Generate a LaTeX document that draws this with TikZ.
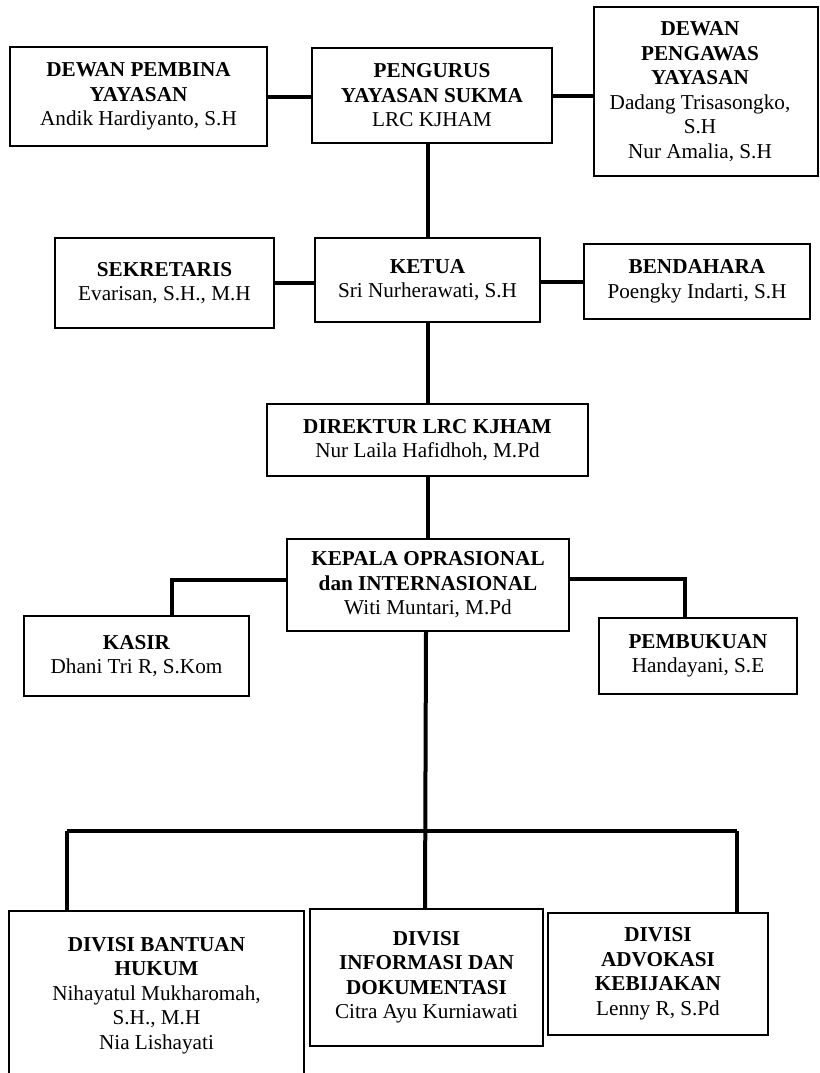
\documentclass[tikz,border=0pt]{standalone}
\usepackage{fontspec}
\setmainfont{Liberation Serif}
\newcommand\padR{\makebox[12pt]{}}
\begin{document}
\begin{tikzpicture}[x=1pt,y=-1pt,
  box/.style={draw=black,line width=2.4pt,rectangle,align=center,inner sep=2pt,
    font=\fontsize{21.2}{24.5}\selectfont},
  conn/.style={draw=black,line width=4pt}]
\useasboundingbox (0,0) rectangle (819,1073);
\clip (0,0) rectangle (819,1073);
\node[box,minimum width=257,minimum height=99] (dp) at (138.5,96.5)
  {\textbf{DEWAN PEMBINA}\\\textbf{YAYASAN}\\Andik Hardiyanto, S.H};
\node[box,minimum width=240,minimum height=95] (pengurus) at (432,95.5)
  {\textbf{PENGURUS}\\\textbf{YAYASAN SUKMA}\\LRC KJHAM};
\node[box,minimum width=224,minimum height=169] (pengawas) at (706,91.5)
  {\textbf{DEWAN}\padR\\\textbf{PENGAWAS}\padR\\\textbf{YAYASAN}\padR\\Dadang Trisasongko,\padR\\S.H\padR\\Nur Amalia, S.H\padR};
\node[box,minimum width=219,minimum height=90] (sek) at (164.5,283)
  {\textbf{SEKRETARIS}\\Evarisan, S.H., M.H};
\node[box,minimum width=225,minimum height=84] (ketua) at (427.5,280)
  {\textbf{KETUA}\\Sri Nurherawati, S.H};
\node[box,minimum width=226,minimum height=75] (bend) at (697,281.5)
  {\textbf{BENDAHARA}\\Poengky Indarti, S.H};
\node[box,minimum width=321,minimum height=72] (direktur) at (427.5,440)
  {\textbf{DIREKTUR LRC KJHAM}\\Nur Laila Hafidhoh, M.Pd};
\node[box,minimum width=282,minimum height=92] (kepala) at (428,585)
  {\textbf{KEPALA OPRASIONAL}\\\textbf{dan INTERNASIONAL}\\Witi Muntari, M.Pd};
\node[box,minimum width=225,minimum height=80] (kasir) at (136.5,656)
  {\textbf{KASIR}\\Dhani Tri R, S.Kom};
\node[box,minimum width=198,minimum height=76] (pemb) at (698,656)
  {\textbf{PEMBUKUAN}\\Handayani, S.E};
\node[box,minimum width=295,minimum height=169] (bantuan) at (156.5,995.5)
  {\textbf{DIVISI BANTUAN}\\\textbf{HUKUM}\\Nihayatul Mukharomah,\\S.H., M.H\\Nia Lishayati};
\node[box,minimum width=233,minimum height=137] (info) at (426.5,977.5)
  {\textbf{DIVISI}\\\textbf{INFORMASI DAN}\\\textbf{DOKUMENTASI}\\Citra Ayu Kurniawati};
\node[box,minimum width=220,minimum height=122] (advokasi) at (658,974)
  {\textbf{DIVISI}\\\textbf{ADVOKASI}\\\textbf{KEBIJAKAN}\\Lenny R, S.Pd};
% connectors
\draw[conn] (dp.east) -- (dp.east -| pengurus.west);
\draw[conn] (pengurus.east) -- (pengurus.east -| pengawas.west);
\draw[conn] (pengurus.south -| ketua.north) -- (ketua.north);
\draw[conn] (sek.east) -- (sek.east -| ketua.west);
\draw[conn] (ketua.east |- bend.west) -- (bend.west);
\draw[conn] (ketua.south) -- (ketua.south |- direktur.north);
\draw[conn] (direktur.south) -- (direktur.south |- kepala.north);
\draw[conn] ([yshift=5pt]kepala.west) -| ([xshift=35.5pt]kasir.north);
\draw[conn] ([yshift=6pt]kepala.east) -| ([xshift=-13pt]pemb.north);
\draw[conn] ([xshift=-2pt]kepala.south) -- ([xshift=-1.5pt]info.north);
\coordinate (busL) at (67,831);
\coordinate (busR) at (737,831);
\draw[conn] (busL) -- (busR);
\draw[conn] (busL) -- (busL |- bantuan.north);
\draw[conn] (busR) -- (busR |- advokasi.north);
\end{tikzpicture}
\end{document}
